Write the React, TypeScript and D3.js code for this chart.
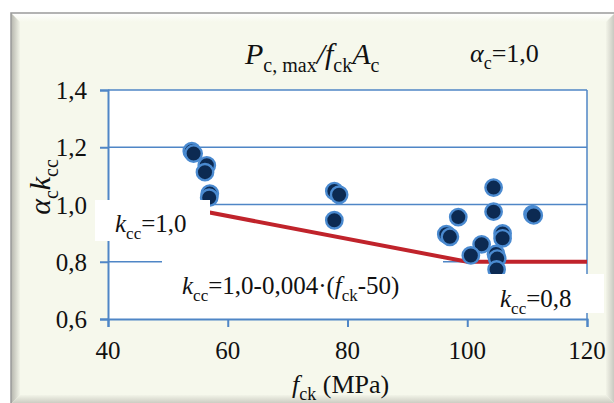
import React, { useEffect, useRef } from 'react';
import * as d3 from 'd3';

// measured test results (fck in MPa, alpha_c * k_cc)
const testFck = [54.0, 54.3, 56.5, 56.2, 57.0, 56.9, 77.8, 78.6, 77.8, 98.5, 96.5, 97.1, 102.4, 100.6, 104.4, 104.4, 105.9, 105.9, 104.8, 105.0, 104.9, 110.9, 111.1];
const testRatio = [1.186, 1.178, 1.137, 1.113, 1.038, 1.024, 1.047, 1.034, 0.945, 0.956, 0.896, 0.887, 0.861, 0.822, 1.059, 0.975, 0.899, 0.882, 0.827, 0.811, 0.773, 0.966, 0.962];

// code curve k_cc = 1,0 - 0,004 (fck - 50), min 0,8
const curveFck = [40, 50, 100, 120];
const curveKcc = [1.0, 1.0, 0.8, 0.8];

const xTicks = [40, 60, 80, 100, 120];
const yTicks = [0.6, 0.8, 1.0, 1.2, 1.4];

const FONT = "'Liberation Serif', 'DejaVu Serif', serif";

const App = () => {
  const svgRef = useRef(null);

  useEffect(() => {
    document.body.style.margin = '0';
    const width = 614;
    const height = 403;
    const left = 108, right = 587, top = 90, bottom = 319;

    const x = d3.scaleLinear().domain([40, 120]).range([left, right]);
    const y = d3.scaleLinear().domain([0.6, 1.4]).range([bottom, top]);

    const svg = d3.select(svgRef.current)
      .attr('width', width)
      .attr('height', height)
      .attr('viewBox', [0, 0, width, height])
      .style('display', 'block');
    svg.selectAll('*').remove();

    // frame with bevel
    const defs = svg.append('defs');
    const grad = (id, x1, y1, x2, y2, c1, c2) => {
      const g = defs.append('linearGradient').attr('id', id)
        .attr('x1', x1).attr('y1', y1).attr('x2', x2).attr('y2', y2);
      g.append('stop').attr('offset', '0%').attr('stop-color', c1);
      g.append('stop').attr('offset', '100%').attr('stop-color', c2);
    };
    grad('gTop', 0, 0, 0, 1, '#ffffff', '#f6f8ec');
    grad('gLeft', 0, 0, 1, 0, '#b4b4ac', '#f2f4e8');
    grad('gRight', 0, 0, 1, 0, '#f2f4e8', '#c4c4bc');
    grad('gBot', 0, 0, 0, 1, '#f2f4e8', '#c8c8be');

    const fx0 = 11, fy0 = 13, fx1 = 615, fy1 = 404, b = 9;
    svg.append('rect').attr('x', fx0).attr('y', fy0)
      .attr('width', fx1 - fx0).attr('height', fy1 - fy0)
      .attr('fill', '#f6f8ec');
    const band = (pts, fill) => svg.append('polygon')
      .attr('points', pts.map(p => p.join(',')).join(' ')).attr('fill', fill);
    band([[fx0, fy0], [fx1, fy0], [fx1 - b, fy0 + b], [fx0 + b, fy0 + b]], 'url(#gTop)');
    band([[fx0, fy0], [fx0 + b, fy0 + b], [fx0 + b, fy1 - b], [fx0, fy1]], 'url(#gLeft)');
    band([[fx1, fy0], [fx1, fy1], [fx1 - b, fy1 - b], [fx1 - b, fy0 + b]], 'url(#gRight)');
    band([[fx0, fy1], [fx0 + b, fy1 - b], [fx1 - b, fy1 - b], [fx1, fy1]], 'url(#gBot)');
    svg.append('rect').attr('x', fx0).attr('y', fy0)
      .attr('width', fx1 - fx0).attr('height', fy1 - fy0)
      .attr('fill', 'none').attr('stroke', '#9a9a9a').attr('stroke-width', 1.5);

    // plot area
    svg.append('rect').attr('x', left).attr('y', top)
      .attr('width', right - left).attr('height', bottom - top).attr('fill', '#ffffff');

    const blue = '#4f86c6';
    svg.append('g').selectAll('line').data(yTicks.slice(1, -1)).join('line')
      .attr('x1', left).attr('x2', right)
      .attr('y1', d => y(d)).attr('y2', d => y(d))
      .attr('stroke', blue).attr('stroke-width', 1.3);
    svg.append('line').attr('x1', left).attr('x2', right).attr('y1', top).attr('y2', top)
      .attr('stroke', blue).attr('stroke-width', 1.5);
    svg.append('line').attr('x1', right).attr('x2', right).attr('y1', top).attr('y2', bottom)
      .attr('stroke', blue).attr('stroke-width', 1.5);

    const xAxis = svg.append('g')
      .attr('transform', `translate(0,${bottom})`)
      .call(d3.axisBottom(x).tickValues(xTicks).tickSizeOuter(0).tickSize(8).tickFormat(() => ''));
    const yAxis = svg.append('g')
      .attr('transform', `translate(${left},0)`)
      .call(d3.axisLeft(y).tickValues(yTicks).tickSizeOuter(0).tickSize(8).tickFormat(() => ''));
    [xAxis, yAxis].forEach(g => {
      g.selectAll('path, line').attr('stroke', blue).attr('stroke-width', 2);
    });

    const label = (sel) => sel.attr('font-family', FONT).attr('fill', '#111');

    // tick labels
    svg.append('g').selectAll('text').data(xTicks).join('text')
      .attr('x', d => x(d)).attr('y', 359)
      .attr('text-anchor', 'middle').attr('font-size', 25)
      .call(label)
      .text(d => d);
    svg.append('g').selectAll('text').data(yTicks).join('text')
      .attr('x', 87).attr('y', d => y(d) + 9)
      .attr('text-anchor', 'end').attr('font-size', 25)
      .call(label)
      .text(d => d3.format('.1f')(d).replace('.', ','));

    // design curve
    const line = d3.line().x(d => x(d[0])).y(d => y(d[1]));
    svg.append('path')
      .datum(curveFck.map((f, i) => [f, curveKcc[i]]))
      .attr('d', line)
      .attr('fill', 'none').attr('stroke', '#c0232b').attr('stroke-width', 4);

    // test points
    svg.append('g').selectAll('circle')
      .data(testFck.map((f, i) => [f, testRatio[i]]))
      .join('circle')
      .attr('cx', d => x(d[0])).attr('cy', d => y(d[1]))
      .attr('r', 8.2)
      .attr('fill', '#0c2a52').attr('stroke', '#4a8ad0').attr('stroke-width', 2.4);

    // rich text helper: parts [text, kind] kind: 'i' italic, 's' subscript, 'n' normal
    const rich = (g, parts, size, sub) => {
      g.call(label);
      let shifted = false;
      parts.forEach(([t, k]) => {
        const ts = g.append('tspan').text(t);
        if (k === 'i') ts.attr('font-style', 'italic');
        if (k === 's') {
          ts.attr('font-size', sub);
          if (!shifted) { ts.attr('dy', size * 0.28); shifted = true; }
        } else if (shifted) {
          ts.attr('dy', -size * 0.28); shifted = false;
        }
      });
    };

    // label boxes
    const box = (x0, y0, w, h) => svg.append('rect')
      .attr('x', x0).attr('y', y0).attr('width', w).attr('height', h).attr('fill', '#ffffff');
    box(95, 200, 115, 41);
    box(162, 259, 281, 53);
    box(482, 274, 122, 39);

    const t1 = svg.append('text').attr('x', 115).attr('y', 232).attr('font-size', 25);
    rich(t1, [['k', 'i'], ['cc', 's'], ['=1,0', 'n']], 25, 17);

    const t2 = svg.append('text').attr('x', 182).attr('y', 294).attr('font-size', 25);
    rich(t2, [['k', 'i'], ['cc', 's'], ['=1,0-0,004\u00b7(', 'n'], ['f', 'i'], ['ck', 's'], ['-50)', 'n']], 25, 17);

    const t3 = svg.append('text').attr('x', 500).attr('y', 307).attr('font-size', 25);
    rich(t3, [['k', 'i'], ['cc', 's'], ['=0,8', 'n']], 25, 17);

    // title
    const tt = svg.append('text').attr('x', 245).attr('y', 64).attr('font-size', 30);
    rich(tt, [['P', 'i'], ['c, max', 's'], ['/', 'i'], ['f', 'i'], ['ck', 's'], ['A', 'i'], ['c', 's']], 30, 20);

    const ta = svg.append('text').attr('x', 470).attr('y', 62).attr('font-size', 26);
    rich(ta, [['\u03b1', 'i'], ['c', 's'], ['=1,0', 'n']], 26, 18);

    // axis titles
    const ty = svg.append('text')
      .attr('transform', 'translate(50,187) rotate(-90)')
      .attr('text-anchor', 'middle').attr('font-size', 30);
    rich(ty, [['\u03b1', 'i'], ['c', 's'], ['k', 'i'], ['cc', 's']], 30, 20);

    const tx = svg.append('text').attr('x', 292).attr('y', 393)
      .attr('font-size', 26);
    rich(tx, [['f', 'i'], ['ck', 's'], [' (MPa)', 'n']], 26, 18);
  }, []);

  return <svg ref={svgRef}></svg>;
};

export default App;
